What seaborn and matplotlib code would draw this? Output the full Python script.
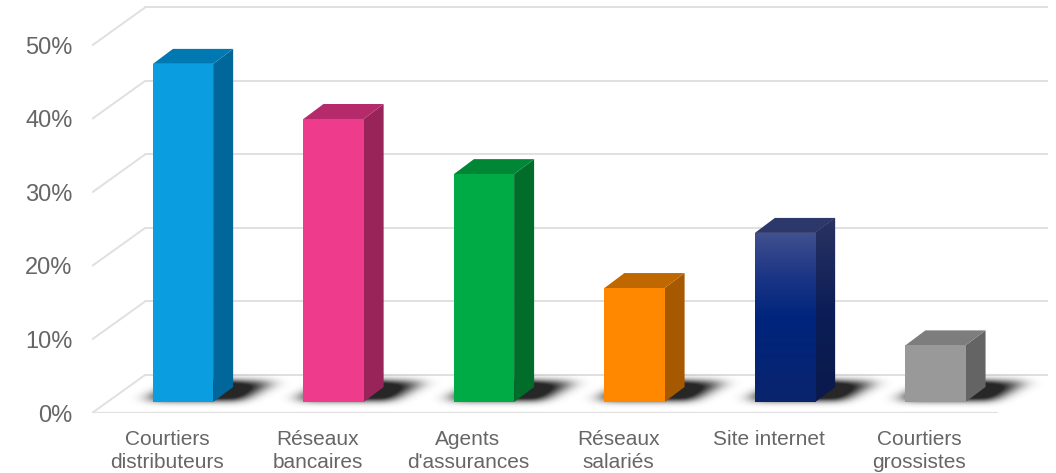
import numpy as np
import pandas as pd
import matplotlib
matplotlib.use("Agg")
import matplotlib.pyplot as plt
import seaborn as sns
from matplotlib.patches import Polygon
from matplotlib.transforms import ScaledTranslation

# ---- data -------------------------------------------------------------
categories = ["Courtiers\ndistributeurs", "Réseaux\nbancaires", "Agents\nd'assurances",
              "Réseaux\nsalariés", "Site internet", "Courtiers\ngrossistes"]
shares = [46, 38.5, 31, 15.5, 23, 7.7]
tick_values = [0, 10, 20, 30, 40, 50]
tick_labels = ["0%", "10%", "20%", "30%", "40%", "50%"]

front_colors = ["#0a9de0", "#ee3b8c", "#00ab45", "#ff8800", "#0a2a7e", "#999999"]
side_colors = ["#01679a", "#98245a", "#006d2b", "#a65900", "#0c1d57", "#646464"]
top_colors = ["#0079b2", "#b52a6b", "#008736", "#c06800", "#2b3869", "#7d7d7d"]

# ---- figure / pseudo-3D geometry ----------------------------------------
sns.set_theme(style="white")
plt.rcParams["font.family"] = ["Liberation Sans", "DejaVu Sans"]

fig = plt.figure(figsize=(10.56, 4.73), dpi=100)
ax = fig.add_axes([92 / 1056, 60 / 473, (1048 - 92) / 1056, 413 / 473])

XLIM = (-0.605, 5.748)
YLIM = (-1.5, 54.69)
floor_front = -1.5           # value level of the front floor edge
wall_shift_y = 5.17          # vertical shift front -> back wall
wall_front_x, wall_back_x = -0.605, -0.2525
floor_right = 5.409
depth_x, depth_y = 0.133, 2.04   # bar depth
grid_col = "#e0e0e0"

df = pd.DataFrame({"canal": categories, "part": shares})

# back wall, left wall and floor lines
for v in tick_values:
    yf = floor_front + v
    yb = yf + wall_shift_y
    ax.plot([wall_front_x, wall_back_x], [yf, yb], color=grid_col, lw=1.4,
            zorder=0.5, solid_capstyle="butt")
    ax.plot([wall_back_x, XLIM[1]], [yb, yb], color=grid_col, lw=1.4, zorder=0.5)
ax.plot([wall_front_x, floor_right], [floor_front, floor_front], color=grid_col,
        lw=1.6, zorder=0.5)

# bars (front faces)
sns.barplot(data=df, x="canal", y="part", hue="canal", palette=front_colors,
            width=0.4, saturation=1, legend=False, ax=ax, zorder=3, linewidth=0)

bars = sorted(ax.patches, key=lambda p: p.get_x())


def blur(arr, sigma, axis):
    r = int(3 * sigma)
    k = np.exp(-0.5 * (np.arange(-r, r + 1) / sigma) ** 2)
    k /= k.sum()
    return np.apply_along_axis(lambda m: np.convolve(m, k, mode="same"), axis, arr)


def floor_shadow(x0, x1):
    ppx, ppy = 150.5, 7.35
    xa, xb = x0 - 0.4, x1 + 0.7
    ya, yb = -1.4, 6.5
    nx, ny = int((xb - xa) * ppx), int((yb - ya) * ppy)
    X, Y = np.meshgrid(np.linspace(xa, xb, nx), np.linspace(yb, ya, ny))
    t = np.clip(Y / depth_y, 0, None)
    left = x0 - 0.07 + t * depth_x * 1.5
    right = x1 + 0.17 + t * depth_x * 1.5
    mask = ((Y >= 0.2) & (Y <= depth_y * 1.3) & (X >= left) & (X <= right)).astype(float)
    mask = blur(mask, 9, 1)
    mask = blur(mask, 3.5, 0)
    # fade away from the bar towards the right
    fade = np.clip(1 - (X - (x1 + depth_x)) / 0.55, 0.0, 1.0)
    fade = np.where(X < x1 + depth_x, 1.0, fade)
    rgba = np.zeros((ny, nx, 4))
    rgba[..., 3] = np.clip(mask * fade * 1.25, 0, 0.85)
    ax.imshow(rgba, extent=(xa, xb, ya, yb), aspect="auto", origin="upper",
              interpolation="bilinear", zorder=1.5)


for i, p in enumerate(bars):
    x0, w, h = p.get_x(), p.get_width(), p.get_height()
    x1 = x0 + w
    floor_shadow(x0, x1)
    side = Polygon([(x1, 0), (x1 + depth_x, depth_y), (x1 + depth_x, h + depth_y), (x1, h)],
                   closed=True, facecolor=side_colors[i], edgecolor="none", zorder=2.9)
    top = Polygon([(x0, h), (x1, h), (x1 + depth_x, h + depth_y), (x0 + depth_x, h + depth_y)],
                  closed=True, facecolor=top_colors[i], edgecolor="none", zorder=2.9)
    ax.add_patch(side)
    ax.add_patch(top)

# vertical shading on the "Site internet" bar
navy = bars[4]
nx0, nw, nh = navy.get_x(), navy.get_width(), navy.get_height()
stops = np.array([[0x42, 0x50, 0x8e], [0x1d, 0x36, 0x86], [0x00, 0x25, 0x7d],
                  [0x04, 0x24, 0x76], [0x0a, 0x24, 0x6c]]) / 255
pos = np.linspace(0, 1, len(stops))
grad_t = np.linspace(0, 1, 200)
grad = np.stack([np.interp(grad_t, pos, stops[:, c]) for c in range(3)], axis=1)
im = ax.imshow(grad[:, None, :], extent=(nx0, nx0 + nw, 0, nh), aspect="auto",
               origin="upper", interpolation="bilinear", zorder=3.1)
im.set_clip_path(navy)
side_stops = np.array([[0x2b, 0x34, 0x62], [0x0c, 0x1d, 0x57], [0x0a, 0x1a, 0x4c]]) / 255
sgrad = np.stack([np.interp(grad_t, np.linspace(0, 1, 3), side_stops[:, c]) for c in range(3)], axis=1)
nside = [pt for pt in ax.patches if isinstance(pt, Polygon)][8]
im2 = ax.imshow(sgrad[:, None, :], extent=(nx0 + nw, nx0 + nw + depth_x, 0, nh + depth_y),
                aspect="auto", origin="upper", interpolation="bilinear", zorder=3.0)
im2.set_clip_path(nside)

# ---- axes / labels ------------------------------------------------------
ax.set_xlim(*XLIM)
ax.set_ylim(*YLIM)
ax.set_xlabel("")
ax.set_ylabel("")
for s in ax.spines.values():
    s.set_visible(False)
ax.grid(False)

ax.set_yticks([floor_front + v for v in tick_values])
ax.set_yticklabels(tick_labels)
ax.tick_params(axis="y", length=0, pad=14, labelsize=17, labelcolor="#666666")
ax.set_xticks(range(len(categories)))
ax.set_xticklabels(categories, linespacing=1.3)
ax.tick_params(axis="x", length=0, pad=12, labelsize=15, labelcolor="#666666")
shift = ScaledTranslation(-16 / 100, 0, fig.dpi_scale_trans)
for lab in ax.get_xticklabels():
    lab.set_transform(lab.get_transform() + shift)

fig.savefig("out.png", dpi=100, facecolor="white")
